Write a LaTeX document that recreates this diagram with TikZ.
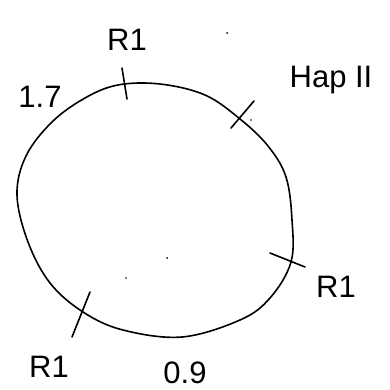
\documentclass[tikz,border=0pt]{standalone}
\usepackage{fontspec}
\setmainfont{Liberation Sans}
\begin{document}
\begin{tikzpicture}[x=1pt,y=-1pt,
  ink/.style={line width=1.6pt,line cap=round,line join=round},
  lbl/.style={font=\fontsize{31}{33}\selectfont,inner sep=0pt},
  speck/.style={fill=black,draw=none}]
\useasboundingbox (0,0) rectangle (390,390);
% ring
\draw[ink] plot[smooth cycle,tension=0.6] coordinates {
 (118,85) (160,84) (205,95) (240,119) (268,146) (286,177) (292,220)
 (291,262) (270,298) (240,320) (182,337) (123,330) (83,312) (50,283)
 (28,242) (17,195) (26,156) (52,122) (85,98)};
% ticks
\coordinate (t1a) at (122,68); \coordinate (t1b) at (127,99);
\coordinate (t2a) at (231,128); \coordinate (t2b) at (254,101);
\coordinate (t3a) at (270,253); \coordinate (t3b) at (305,267);
\coordinate (t4a) at (90,292); \coordinate (t4b) at (72,337);
\draw[ink] (t1a) -- (t1b);
\draw[ink] (t2a) -- (t2b);
\draw[ink] (t3a) -- (t3b);
\draw[ink] (t4a) -- (t4b);
% labels
\node[lbl] (lR1top) at (127,40) {R1};
\node[lbl] (l17) at (40,97) {1.7};
\node[lbl] (lHap) at (331,80) {Hap II};
\node[lbl] (lR1right) at (336,287) {R1};
\node[lbl] (lR1left) at (49,367) {R1};
\node[lbl] (l09) at (185,373) {0.9};
% stray specks
\fill[speck] (227,33) circle (1pt);
\fill[speck] (251,120) circle (0.8pt);
\fill[speck] (167,258) circle (1pt);
\fill[speck] (126,278) circle (0.8pt);
\end{tikzpicture}
\end{document}
